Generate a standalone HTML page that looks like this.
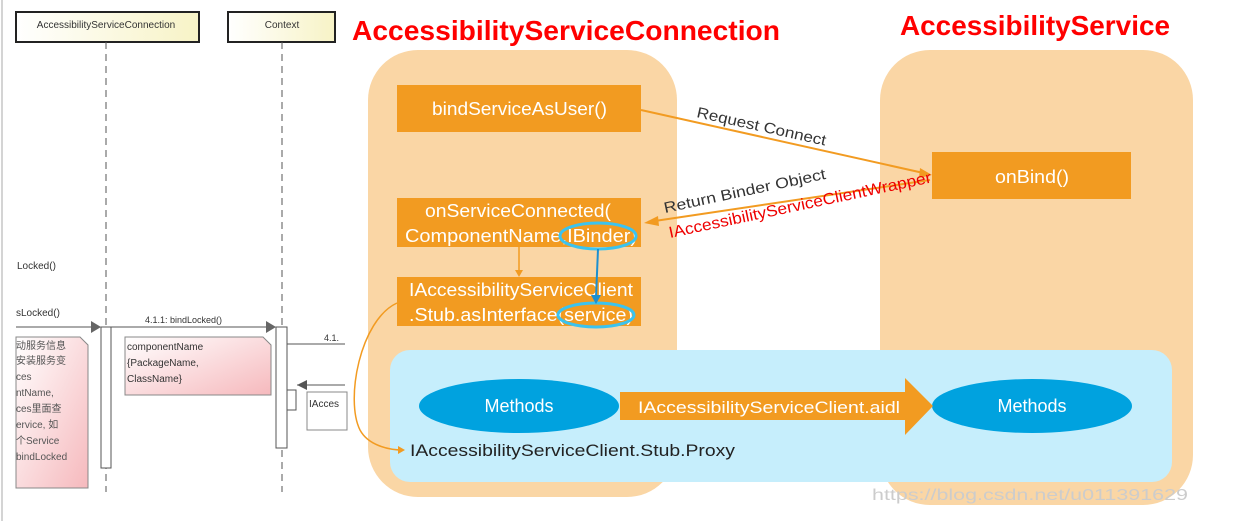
<!DOCTYPE html>
<html><head><meta charset="utf-8"><style>
html,body{margin:0;padding:0;background:#fff;}
svg{display:block;}
text{font-family:"Liberation Sans","Noto Sans CJK SC",sans-serif;}
</style></head><body>
<svg width="1249" height="521" viewBox="0 0 1249 521" xmlns="http://www.w3.org/2000/svg">
<defs>
<linearGradient id="pk" x1="0" y1="0" x2="1" y2="1"><stop offset="0" stop-color="#fff"/><stop offset="1" stop-color="#f6b9bd"/></linearGradient>
<linearGradient id="yl" x1="0" y1="0" x2="1" y2="0"><stop offset="0" stop-color="#fff"/><stop offset="1" stop-color="#f7f3c6"/></linearGradient>
</defs>
<line x1="2" y1="0" x2="2" y2="521" stroke="#aaa" stroke-width="1"/>
<rect x="16" y="12" width="183" height="30" fill="url(#yl)" stroke="#222" stroke-width="2"/>
<text x="106" y="28" font-size="10" text-anchor="middle" fill="#333">AccessibilityServiceConnection</text>
<rect x="228" y="12" width="107" height="30" fill="url(#yl)" stroke="#222" stroke-width="2"/>
<text x="282" y="28" font-size="10" text-anchor="middle" fill="#333">Context</text>
<line x1="106" y1="42" x2="106" y2="492" stroke="#555" stroke-dasharray="7,5"/>
<line x1="282" y1="42" x2="282" y2="492" stroke="#555" stroke-dasharray="7,5"/>
<text x="17" y="269" font-size="10" fill="#333">Locked()</text>
<text x="16" y="316" font-size="10" fill="#333">sLocked()</text>
<line x1="16" y1="327" x2="100" y2="327" stroke="#555"/>
<polygon points="91,321 101,327 91,333" fill="#666"/>
<text x="145" y="323" font-size="9" fill="#333">4.1.1: bindLocked()</text>
<line x1="111" y1="327" x2="275" y2="327" stroke="#555"/>
<polygon points="266,321 276,327 266,333" fill="#666"/>
<rect x="101" y="327" width="10" height="141" fill="#fff" stroke="#555"/>
<rect x="276" y="327" width="11" height="121" fill="#fff" stroke="#555"/>
<path d="M16 337 H80 L88 345 V488 H16 Z" fill="url(#pk)" stroke="#888"/>
<text font-size="10" fill="#555"><tspan x="16" y="349">动服务信息</tspan><tspan x="16" y="364">安装服务变</tspan><tspan x="16" y="380">ces</tspan><tspan x="16" y="396">ntName,</tspan><tspan x="16" y="412">ces里面查</tspan><tspan x="16" y="428">ervice, 如</tspan><tspan x="16" y="444">个Service</tspan><tspan x="16" y="460">bindLocked</tspan></text>
<path d="M125 337 H263 L271 345 V395 H125 Z" fill="url(#pk)" stroke="#888"/>
<text font-size="10" fill="#333"><tspan x="127" y="350">componentName</tspan><tspan x="127" y="366">{PackageName,</tspan><tspan x="127" y="382">ClassName}</tspan></text>
<line x1="287" y1="344" x2="345" y2="344" stroke="#555"/>
<text x="324" y="341" font-size="9" fill="#333">4.1.</text>
<line x1="297" y1="385" x2="345" y2="385" stroke="#555"/>
<polygon points="297,385 307,380 307,390" fill="#555"/>
<polyline points="287,390 296,390 296,410 287,410" fill="none" stroke="#555"/>
<rect x="307" y="392" width="40" height="38" fill="#fff" stroke="#888"/>
<text x="309" y="407" font-size="10" fill="#333">IAcces</text>
<rect x="368" y="50" width="309" height="447" rx="50" fill="#fad6a5"/>
<rect x="880" y="50" width="313" height="455" rx="50" fill="#fad6a5"/>
<text x="352" y="40" font-size="28" font-weight="bold" fill="#f00" textLength="428" lengthAdjust="spacingAndGlyphs">AccessibilityServiceConnection</text>
<text x="900" y="35" font-size="28" font-weight="bold" fill="#f00" textLength="270" lengthAdjust="spacingAndGlyphs">AccessibilityService</text>
<rect x="397" y="85" width="244" height="47" fill="#f29b21"/>
<text x="432" y="115" font-size="18" fill="#fff" textLength="175" lengthAdjust="spacingAndGlyphs">bindServiceAsUser()</text>
<rect x="932" y="152" width="199" height="47" fill="#f29b21"/>
<text x="995" y="183" font-size="18" fill="#fff" textLength="74" lengthAdjust="spacingAndGlyphs">onBind()</text>
<rect x="397" y="198" width="244" height="49" fill="#f29b21"/>
<text x="425" y="217" font-size="18" fill="#fff" textLength="186" lengthAdjust="spacingAndGlyphs">onServiceConnected(</text>
<text x="405" y="242" font-size="18" fill="#fff" textLength="232" lengthAdjust="spacingAndGlyphs">ComponentName,IBinder)</text>
<rect x="397" y="277" width="244" height="49" fill="#f29b21"/>
<text x="409" y="296" font-size="18" fill="#fff" textLength="224" lengthAdjust="spacingAndGlyphs">IAccessibilityServiceClient</text>
<text x="409" y="321" font-size="18" fill="#fff" textLength="224" lengthAdjust="spacingAndGlyphs">.Stub.asInterface(service)</text>
<ellipse cx="598" cy="236" rx="38" ry="13" fill="none" stroke="#3bc3ef" stroke-width="3"/>
<ellipse cx="596" cy="315" rx="38" ry="12" fill="none" stroke="#3bc3ef" stroke-width="3"/>
<line x1="519" y1="247" x2="519" y2="272" stroke="#f29b21" stroke-width="1.5"/>
<polygon points="515,270 519,277 523,270" fill="#f29b21"/>
<line x1="598" y1="249" x2="596" y2="298" stroke="#1b8fd0" stroke-width="2"/>
<polygon points="591,295 596,304 601,295" fill="#1b8fd0"/>
<line x1="641" y1="110" x2="928" y2="174" stroke="#f29b21" stroke-width="2"/>
<polygon points="920,168 932,175 919,178" fill="#f29b21"/>
<text transform="translate(696,117) rotate(12.5)" font-size="15" fill="#333" textLength="132" lengthAdjust="spacingAndGlyphs">Request Connect</text>
<line x1="930" y1="180" x2="648" y2="222" stroke="#f29b21" stroke-width="2"/>
<polygon points="658,216 644,223 659,226" fill="#f29b21"/>
<text transform="translate(665,213) rotate(-12)" font-size="15" fill="#333" textLength="165" lengthAdjust="spacingAndGlyphs">Return Binder Object</text>
<text transform="translate(670,238) rotate(-12)" font-size="16" fill="#e00" textLength="268" lengthAdjust="spacingAndGlyphs">IAccessibilityServiceClientWrapper</text>
<rect x="390" y="350" width="782" height="132" rx="20" fill="#c6eefc"/>
<ellipse cx="519" cy="406" rx="100" ry="27" fill="#00a2df"/>
<text x="519" y="412" font-size="18" fill="#fff" text-anchor="middle">Methods</text>
<ellipse cx="1032" cy="406" rx="100" ry="27" fill="#00a2df"/>
<text x="1032" y="412" font-size="18" fill="#fff" text-anchor="middle">Methods</text>
<polygon points="620,392 905,392 905,378 933,406 905,435 905,420 620,420" fill="#f29b21"/>
<text x="638" y="413" font-size="17" fill="#fff" textLength="262" lengthAdjust="spacingAndGlyphs">IAccessibilityServiceClient.aidl</text>
<text x="410" y="456" font-size="17" fill="#222" textLength="325" lengthAdjust="spacingAndGlyphs">IAccessibilityServiceClient.Stub.Proxy</text>
<path d="M397 303 C360 320 345 400 360 430 C368 445 388 450 403 450" fill="none" stroke="#f29b21" stroke-width="1.5"/>
<polygon points="398,446 405,450 398,454" fill="#f29b21"/>
<text x="872" y="500" font-size="16" fill="#ccc" font-family="Liberation Serif,serif" textLength="316" lengthAdjust="spacingAndGlyphs">https://blog.csdn.net/u011391629</text>
</svg>
</body></html>
